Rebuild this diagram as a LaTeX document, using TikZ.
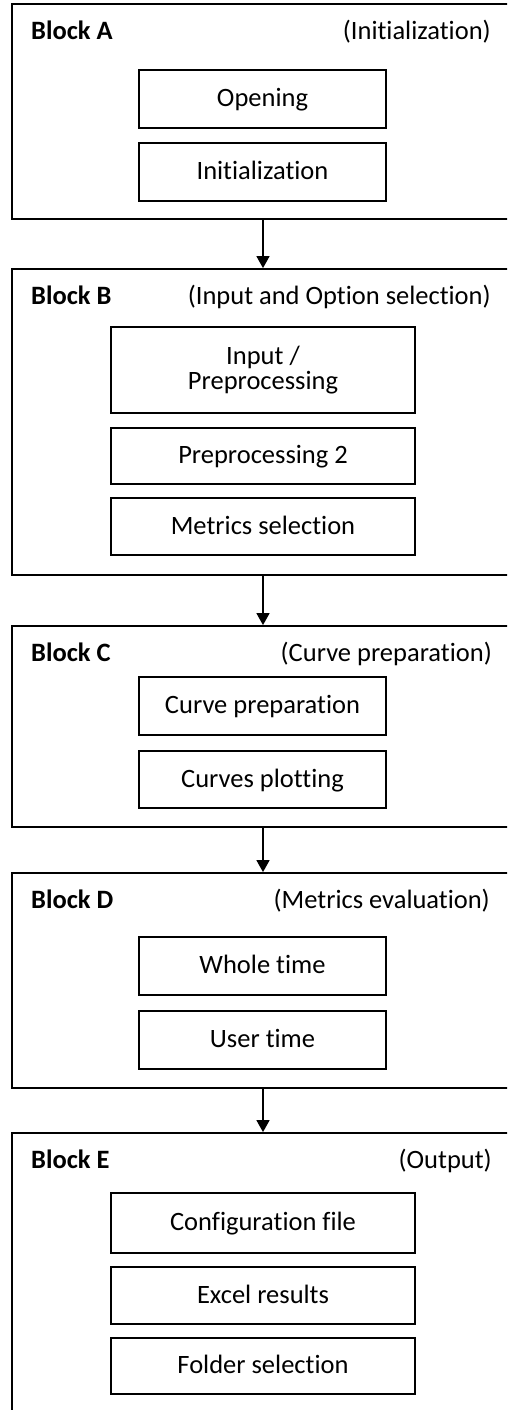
\documentclass[tikz,border=0pt]{standalone}
\usepackage{fontspec}
\setmainfont{Carlito}[Ligatures=NoCommon]
\usetikzlibrary{arrows.meta}
\begin{document}
\begin{tikzpicture}[x=1pt,y=-1pt,
  block/.style={draw, line width=1.8pt, minimum width=502pt, inner sep=0pt},
  inbox/.style={draw, line width=1.5pt, inner sep=0pt, align=center, font=\fontsize{26.5}{25}\selectfont},
  oneline/.style={text height=20pt, text depth=5pt},
  wide/.style={inbox, minimum width=304pt},
  narrow/.style={inbox, minimum width=247pt},
  blabel/.style={anchor=base west, inner sep=0pt, font=\fontsize{26.5}{28}\selectfont\bfseries},
  rlabel/.style={anchor=base east, inner sep=0pt, font=\fontsize{26.5}{28}\selectfont},
  flow/.style={line width=1.5pt, -{Triangle[width=13pt,length=12pt]}}]
\clip (0,0) rectangle (507,1410);
\fill[white] (0,0) rectangle (507,1410);
% outer blocks
\node[block, minimum height=215pt] (A) at (263,111.5) {};
\node[block, minimum height=306pt] (B) at (263,422) {};
\node[block, minimum height=201pt] (C) at (263,726.5) {};
\node[block, minimum height=215pt] (D) at (263,980.5) {};
\node[block, minimum height=287pt] (E) at (263,1276.5) {};
% labels
\node[blabel] (la) at (31,40) {Block A};
\node[rlabel] (ra) at (491,40) {(Initialization)};
\node[blabel] (lb) at (31,304) {Block B};
\node[rlabel] (rb) at (491,304) {(Input and Option selection)};
\node[blabel] (lc) at (31,661) {Block C};
\node[rlabel] (rc) at (492,661) {(Curve preparation)};
\node[blabel] (ld) at (31,908) {Block D};
\node[rlabel] (rd) at (490,908) {(Metrics evaluation)};
\node[blabel] (le) at (31,1168) {Block E};
\node[rlabel] (re) at (492,1168) {(Output)};
% inner boxes
\node[narrow, oneline, minimum height=58pt] (a1) at (262.5,99) {Opening};
\node[narrow, oneline, minimum height=58pt] (a2) at (262.5,172) {Initialization};
\node[wide, minimum height=86pt] (b1) at (263,370) {Input /\\Preprocessing};
\node[wide, oneline, minimum height=56pt] (b2) at (263,456) {Preprocessing 2};
\node[wide, oneline, minimum height=57pt] (b3) at (263,526.5) {Metrics selection};
\node[narrow, oneline, minimum height=58pt] (c1) at (262.5,706) {Curve preparation};
\node[narrow, oneline, minimum height=57pt] (c2) at (262.5,779.5) {Curves plotting};
\node[narrow, oneline, minimum height=58pt] (d1) at (262.5,966) {Whole time};
\node[narrow, oneline, minimum height=58pt] (d2) at (262.5,1040) {User time};
\node[wide, oneline, minimum height=60pt] (e1) at (263,1223) {Configuration file};
\node[wide, oneline, minimum height=57pt] (e2) at (263,1295.5) {Excel results};
\node[wide, oneline, minimum height=56pt] (e3) at (263,1366) {Folder selection};
% arrows
\draw[flow] (A.south) -- (B.north);
\draw[flow] (B.south) -- (C.north);
\draw[flow] (C.south) -- (D.north);
\draw[flow] (D.south) -- (E.north);
\end{tikzpicture}
\end{document}
